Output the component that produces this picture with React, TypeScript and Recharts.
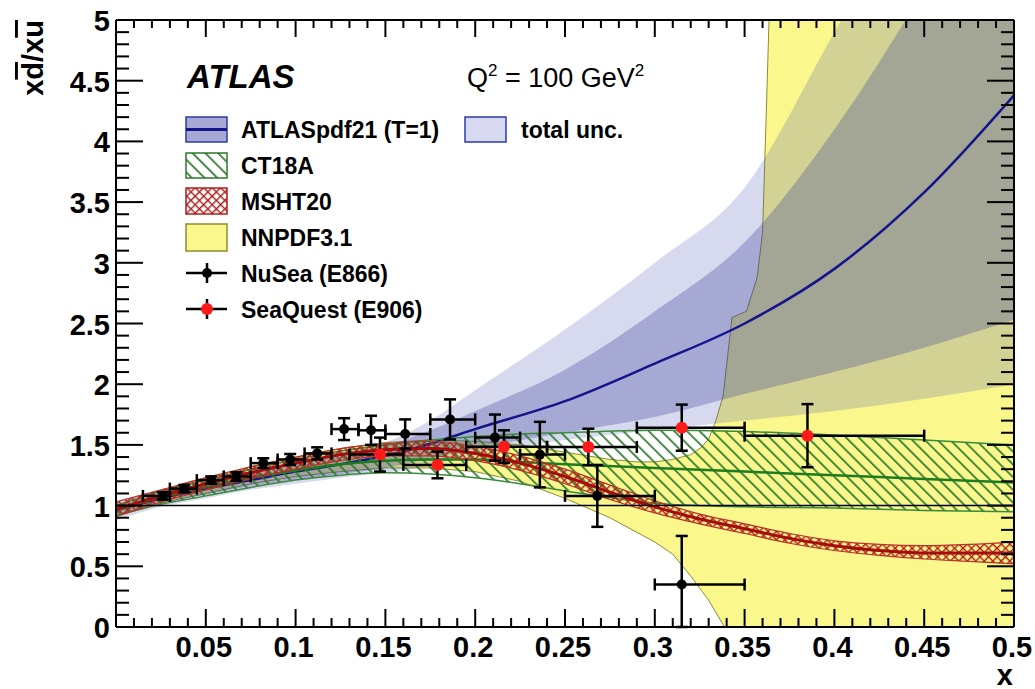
import {
  Area,
  ComposedChart,
  ErrorBar,
  ReferenceLine,
  Scatter,
  XAxis,
  YAxis,
} from "recharts";

const W = 1035;
const H = 689;
const FONT = '"Liberation Sans", Arial, Helvetica, sans-serif';

// ATLASpdf21 central value, T=1 band and total uncertainty band
const atlasX = [0, 0.025, 0.05, 0.075, 0.1, 0.125, 0.15, 0.175, 0.2, 0.25, 0.3, 0.35, 0.4, 0.45, 0.5];
const atlasMid = [0.96, 1.06, 1.14, 1.21, 1.28, 1.34, 1.41, 1.51, 1.63, 1.86, 2.17, 2.5, 2.95, 3.58, 4.38];
const atlasLo = [0.92, 1.02, 1.09, 1.16, 1.21, 1.26, 1.31, 1.39, 1.47, 1.6, 1.73, 1.92, 2.1, 2.3, 2.53];
const atlasHi = [1.0, 1.1, 1.19, 1.27, 1.35, 1.42, 1.49, 1.62, 1.78, 2.12, 2.6, 3.17, 4.1, 5.25, 6.5];
const atlasTotLo = [0.88, 0.99, 1.06, 1.13, 1.18, 1.23, 1.27, 1.33, 1.42, 1.54, 1.62, 1.7, 1.78, 1.88, 2.0];
const atlasTotHi = [1.03, 1.13, 1.22, 1.3, 1.38, 1.45, 1.52, 1.7, 1.95, 2.45, 3.0, 3.62, 4.9, 6.2, 7.5];

// CT18A
const ctX = [0, 0.025, 0.05, 0.075, 0.1, 0.125, 0.15, 0.175, 0.2, 0.225, 0.25, 0.3, 0.35, 0.4, 0.45, 0.5];
const ctMid = [0.96, 1.07, 1.15, 1.23, 1.29, 1.34, 1.37, 1.38, 1.38, 1.36, 1.34, 1.31, 1.28, 1.25, 1.22, 1.19];
const ctLo = [0.92, 1.01, 1.08, 1.15, 1.21, 1.25, 1.27, 1.26, 1.23, 1.18, 1.12, 1.02, 0.99, 0.98, 0.96, 0.95];
const ctHi = [1.0, 1.12, 1.21, 1.3, 1.38, 1.45, 1.5, 1.54, 1.57, 1.59, 1.6, 1.62, 1.61, 1.58, 1.54, 1.5];

// MSHT20
const mshtX = [0, 0.025, 0.05, 0.075, 0.1, 0.125, 0.15, 0.175, 0.2, 0.225, 0.25, 0.275, 0.3, 0.325, 0.35, 0.375, 0.4, 0.425, 0.45, 0.475, 0.5];
const mshtMid = [0.97, 1.08, 1.18, 1.27, 1.35, 1.42, 1.46, 1.47, 1.43, 1.35, 1.24, 1.11, 0.99, 0.89, 0.81, 0.73, 0.67, 0.63, 0.61, 0.61, 0.61];
const mshtLo = [0.91, 1.03, 1.13, 1.22, 1.3, 1.37, 1.41, 1.41, 1.37, 1.29, 1.18, 1.05, 0.94, 0.85, 0.77, 0.69, 0.63, 0.59, 0.56, 0.54, 0.52];
const mshtHi = [1.03, 1.13, 1.23, 1.32, 1.4, 1.47, 1.51, 1.53, 1.49, 1.41, 1.3, 1.17, 1.04, 0.93, 0.85, 0.77, 0.71, 0.68, 0.67, 0.68, 0.7];

// NNPDF3.1 (band leaves the frame above x ~ 0.34)
const nnX = [0, 0.025, 0.05, 0.075, 0.1, 0.125, 0.15, 0.175, 0.2, 0.225, 0.25, 0.275, 0.29, 0.3, 0.31, 0.32, 0.326, 0.33, 0.334, 0.338, 0.343, 0.351, 0.357, 0.36, 0.362, 0.364, 0.37, 0.4, 0.45, 0.5];
const nnLo = [0.91, 1.02, 1.1, 1.18, 1.24, 1.28, 1.31, 1.31, 1.28, 1.2, 1.06, 0.9, 0.78, 0.7, 0.6, 0.42, 0.3, 0.22, 0.12, 0.02, -0.2, -0.6, -0.9, -1, -1, -1, -1, -1, -1, -1];
const nnHi = [1.0, 1.12, 1.22, 1.32, 1.4, 1.47, 1.52, 1.54, 1.53, 1.5, 1.44, 1.38, 1.36, 1.36, 1.38, 1.42, 1.48, 1.55, 1.7, 1.9, 2.55, 2.6, 2.88, 3.25, 4.2, 5.2, 9, 9, 9, 9];

// NuSea (E866)
const nuseaX = [0.026, 0.038, 0.053, 0.067, 0.082, 0.097, 0.112, 0.127, 0.142, 0.161, 0.186, 0.211, 0.236, 0.268, 0.315];
const nuseaXLo = [0.015, 0.03, 0.045, 0.06, 0.075, 0.09, 0.105, 0.12, 0.135, 0.15, 0.175, 0.2, 0.225, 0.25, 0.3];
const nuseaXHi = [0.03, 0.045, 0.06, 0.075, 0.09, 0.105, 0.12, 0.135, 0.15, 0.175, 0.2, 0.225, 0.25, 0.3, 0.35];
const nuseaY = [1.08, 1.14, 1.21, 1.24, 1.35, 1.38, 1.43, 1.63, 1.62, 1.59, 1.71, 1.56, 1.42, 1.08, 0.35];
const nuseaErrDown = [0.03, 0.03, 0.03, 0.035, 0.04, 0.045, 0.05, 0.09, 0.12, 0.12, 0.165, 0.19, 0.27, 0.255, 0.35];
const nuseaErrUp = [0.03, 0.03, 0.03, 0.035, 0.04, 0.045, 0.05, 0.09, 0.12, 0.12, 0.165, 0.19, 0.27, 0.255, 0.4];

// SeaQuest (E906)
const seaqX = [0.147, 0.179, 0.216, 0.263, 0.315, 0.385];
const seaqXLo = [0.13, 0.16, 0.195, 0.24, 0.29, 0.35];
const seaqXHi = [0.16, 0.195, 0.24, 0.29, 0.35, 0.45];
const seaqY = [1.42, 1.335, 1.485, 1.483, 1.642, 1.576];
const seaqErr = [0.14, 0.11, 0.135, 0.15, 0.19, 0.26];

// axis ticks
const xMajorTicks = [0.05, 0.1, 0.15, 0.2, 0.25, 0.3, 0.35, 0.4, 0.45, 0.5];
const yMajorTicks = [0, 0.5, 1, 1.5, 2, 2.5, 3, 3.5, 4, 4.5, 5];
const xTicks = Array.from({ length: 51 }, (_, i) => i / 100);
const yTicks = Array.from({ length: 51 }, (_, i) => i / 10);

const band = (xs: number[], lo: number[], hi: number[]) =>
  xs.map((x, i) => ({ x, range: [lo[i], hi[i]] }));
const curve = (xs: number[], ys: number[]) => xs.map((x, i) => ({ x, y: ys[i] }));

const nnData = band(nnX, nnLo, nnHi);
// total-uncertainty band drawn as the two strips outside the T=1 band
const atlasTotUpper = band(atlasX, atlasHi, atlasTotHi);
const atlasTotLower = band(atlasX, atlasTotLo, atlasLo);
const atlasData = band(atlasX, atlasLo, atlasHi);
const atlasMidData = curve(atlasX, atlasMid);
const ctData = band(ctX, ctLo, ctHi);
const ctMidData = curve(ctX, ctMid);
const mshtData = band(mshtX, mshtLo, mshtHi);
const mshtMidData = curve(mshtX, mshtMid);

const nuseaData = nuseaX.map((x, i) => ({
  x,
  y: nuseaY[i],
  ex: [x - nuseaXLo[i], nuseaXHi[i] - x],
  ey: [nuseaErrDown[i], nuseaErrUp[i]],
}));
const seaqData = seaqX.map((x, i) => ({
  x,
  y: seaqY[i],
  ex: [x - seaqXLo[i], seaqXHi[i] - x],
  ey: seaqErr[i],
}));

const isMajor = (v: number, list: number[]) => list.some((t) => Math.abs(t - v) < 1e-6);
const fmt = (v: number) => String(Number(v.toFixed(2)));

const TOT_FILL = "#4a52b8";
const TOT_OP = 0.22;
const DENSE_FILL = "#3a40a0";
const DENSE_OP = 0.45;

function patternDefs(p: string) {
  return (
    <defs>
      <pattern id={`${p}hatch`} width={9} height={9} patternUnits="userSpaceOnUse" patternTransform="rotate(-45)">
        <rect x={0} y={0} width={1.7} height={9} fill="#2d7a2d" />
      </pattern>
      <pattern id={`${p}cross`} width={6} height={6} patternUnits="userSpaceOnUse" patternTransform="rotate(45)">
        <rect x={0} y={0} width={6} height={1.4} fill="#b01e1e" />
        <rect x={0} y={0} width={1.4} height={6} fill="#b01e1e" />
      </pattern>
    </defs>
  );
}

const labelStyle = { fontFamily: FONT, fontWeight: 700, fontSize: 29, fill: "#000" };

function BottomTick(props: any) {
  const { x, y, payload } = props;
  const major = isMajor(payload.value, xMajorTicks);
  return (
    <g>
      <line x1={x} x2={x} y1={y} y2={y - (major ? 18 : 9)} stroke="#000" strokeWidth={2} />
      {major && (
        <text x={x - 2} y={y + 30} textAnchor="middle" style={labelStyle}>
          {fmt(payload.value)}
        </text>
      )}
    </g>
  );
}

function TopTick(props: any) {
  const { x, y, payload } = props;
  const major = isMajor(payload.value, xMajorTicks);
  return <line x1={x} x2={x} y1={y} y2={y + (major ? 17 : 8)} stroke="#000" strokeWidth={2} />;
}

function LeftTick(props: any) {
  const { x, y, payload } = props;
  const major = isMajor(payload.value, yMajorTicks);
  return (
    <g>
      <line x1={x} x2={x + (major ? 27 : 13)} y1={y} y2={y} stroke="#000" strokeWidth={2} />
      {major && (
        <text x={x - 6} y={y + 11} textAnchor="end" style={labelStyle}>
          {fmt(payload.value)}
        </text>
      )}
    </g>
  );
}

function RightTick(props: any) {
  const { x, y, payload } = props;
  const major = isMajor(payload.value, yMajorTicks);
  return <line x1={x} x2={x - (major ? 27 : 13)} y1={y} y2={y} stroke="#000" strokeWidth={2} />;
}

const dot = (color: string, r: number) => (p: any) =>
  <circle cx={p.cx} cy={p.cy} r={r} fill={color} />;

const axisLine = { stroke: "#000", strokeWidth: 2 };

function Legend() {
  const rows = [129.5, 165.5, 201, 237.5, 273, 309];
  const text = { fontFamily: FONT, fontWeight: 700, fontSize: 23, fill: "#000" };
  return (
    <svg width={W} height={H} style={{ position: "absolute", left: 0, top: 0, pointerEvents: "none" }}>
      {patternDefs("l-")}
      <text x={187} y={88} style={{ fontFamily: FONT, fontWeight: 700, fontStyle: "italic", fontSize: 33 }}>
        ATLAS
      </text>
      <text x={467} y={87} style={{ fontFamily: FONT, fontSize: 27, whiteSpace: "pre" }}>
        Q<tspan dy={-11} fontSize={17}>2</tspan>
        <tspan dy={11}> = 100 GeV</tspan>
        <tspan dy={-11} fontSize={17}>2</tspan>
      </text>

      <rect x={186} y={117} width={41} height={25} fill={DENSE_FILL} fillOpacity={DENSE_OP} stroke="#2c3aa8" strokeWidth={1.5} />
      <line x1={186} x2={227} y1={129.5} y2={129.5} stroke="#14148c" strokeWidth={3} />
      <text x={241} y={rows[0] + 8.5} style={text}>ATLASpdf21 (T=1)</text>
      <rect x={465} y={117} width={41} height={25} fill={TOT_FILL} fillOpacity={TOT_OP} stroke="#2c3aa8" strokeWidth={1.5} />
      <text x={521} y={rows[0] + 8.5} style={text}>total unc.</text>

      <rect x={186} y={153} width={41} height={25} fill="url(#l-hatch)" stroke="#2d7a2d" strokeWidth={1.5} />
      <text x={241} y={rows[1] + 8.5} style={text}>CT18A</text>

      <rect x={186} y={188} width={41} height={26} fill="url(#l-cross)" stroke="#b01e1e" strokeWidth={1.5} />
      <text x={241} y={rows[2] + 8.5} style={text}>MSHT20</text>

      <rect x={186} y={224} width={41} height={27} fill="#faf78c" stroke="#8f8d2e" strokeWidth={1.5} />
      <text x={241} y={rows[3] + 8.5} style={text}>NNPDF3.1</text>

      <line x1={186} x2={227} y1={rows[4]} y2={rows[4]} stroke="#000" strokeWidth={2.5} />
      <line x1={207} x2={207} y1={rows[4] - 10} y2={rows[4] + 10} stroke="#000" strokeWidth={2.5} />
      <circle cx={207} cy={rows[4]} r={5} fill="#000" />
      <text x={241} y={rows[4] + 8.5} style={text}>NuSea (E866)</text>

      <line x1={186} x2={227} y1={rows[5]} y2={rows[5]} stroke="#000" strokeWidth={2.5} />
      <line x1={207} x2={207} y1={rows[5] - 10} y2={rows[5] + 10} stroke="#000" strokeWidth={2.5} />
      <circle cx={207} cy={rows[5]} r={6} fill="#ff1a1a" />
      <text x={241} y={rows[5] + 8.5} style={text}>SeaQuest (E906)</text>

      <text transform="translate(43,20) rotate(-90)" textAnchor="end" style={labelStyle}>
        x<tspan style={{ textDecoration: "overline" }}>d</tspan>/x
        <tspan style={{ textDecoration: "overline" }}>u</tspan>
      </text>
      <text x={1013} y={685} textAnchor="end" style={labelStyle}>x</text>
    </svg>
  );
}

export default function App() {
  return (
    <div style={{ position: "absolute", left: 0, top: 0, width: W, height: H, background: "#fff" }}>
      <ComposedChart width={W} height={H} margin={{ top: 0, right: 0, bottom: 0, left: 0 }}>
        {patternDefs("c-")}
        <XAxis
          dataKey="x"
          type="number"
          domain={[0, 0.5]}
          allowDataOverflow
          ticks={xTicks}
          interval={0}
          height={62}
          tickSize={0}
          tickMargin={0}
          tickLine={false}
          axisLine={axisLine}
          tick={(p: any) => <BottomTick {...p} />}
        />
        <XAxis
          xAxisId="top"
          orientation="top"
          dataKey="x"
          type="number"
          domain={[0, 0.5]}
          allowDataOverflow
          ticks={xTicks}
          interval={0}
          height={20}
          tickSize={0}
          tickMargin={0}
          tickLine={false}
          axisLine={axisLine}
          tick={(p: any) => <TopTick {...p} />}
        />
        <YAxis
          type="number"
          domain={[0, 5]}
          allowDataOverflow
          ticks={yTicks}
          interval={0}
          width={116}
          tickSize={0}
          tickMargin={0}
          tickLine={false}
          axisLine={axisLine}
          tick={(p: any) => <LeftTick {...p} />}
        />
        <YAxis
          yAxisId="right"
          orientation="right"
          type="number"
          domain={[0, 5]}
          allowDataOverflow
          ticks={yTicks}
          interval={0}
          width={21}
          tickSize={0}
          tickMargin={0}
          tickLine={false}
          axisLine={axisLine}
          tick={(p: any) => <RightTick {...p} />}
        />

        <Area data={nnData} dataKey="range" type="linear" stroke="#8f8d2e" strokeWidth={1} fill="#faf78c" fillOpacity={1} isAnimationActive={false} />
        <Area data={atlasTotUpper} dataKey="range" type="monotone" stroke="none" fill={TOT_FILL} fillOpacity={TOT_OP} isAnimationActive={false} />
        <Area data={atlasTotLower} dataKey="range" type="monotone" stroke="none" fill={TOT_FILL} fillOpacity={TOT_OP} isAnimationActive={false} />
        <Area data={atlasData} dataKey="range" type="monotone" stroke="none" fill={DENSE_FILL} fillOpacity={DENSE_OP} isAnimationActive={false} />
        <Area data={atlasMidData} dataKey="y" type="monotone" stroke="#14148c" strokeWidth={2.5} fill="none" isAnimationActive={false} />
        <Area data={ctData} dataKey="range" type="monotone" stroke="#3a8a3a" strokeWidth={1.5} fill="url(#c-hatch)" fillOpacity={1} isAnimationActive={false} />
        <Area data={ctMidData} dataKey="y" type="monotone" stroke="#1e7b1e" strokeWidth={2.5} fill="none" isAnimationActive={false} />
        <Area data={mshtData} dataKey="range" type="monotone" stroke="#b8322a" strokeWidth={1.2} fill="url(#c-cross)" fillOpacity={1} isAnimationActive={false} />
        <Area data={mshtMidData} dataKey="y" type="monotone" stroke="#a30d0d" strokeWidth={3} fill="none" isAnimationActive={false} />

        <ReferenceLine y={1} stroke="#000" strokeWidth={1.5} />

        <Scatter data={nuseaData} dataKey="y" isAnimationActive={false} shape={dot("#000", 5)}>
          <ErrorBar dataKey="ex" direction="x" width={6} stroke="#000" strokeWidth={2.5} />
          <ErrorBar dataKey="ey" direction="y" width={6} stroke="#000" strokeWidth={2.5} />
        </Scatter>
        <Scatter data={seaqData} dataKey="y" isAnimationActive={false} shape={dot("#ff1a1a", 6)}>
          <ErrorBar dataKey="ex" direction="x" width={6} stroke="#000" strokeWidth={2.5} />
          <ErrorBar dataKey="ey" direction="y" width={6} stroke="#000" strokeWidth={2.5} />
        </Scatter>
      </ComposedChart>
      <Legend />
    </div>
  );
}
